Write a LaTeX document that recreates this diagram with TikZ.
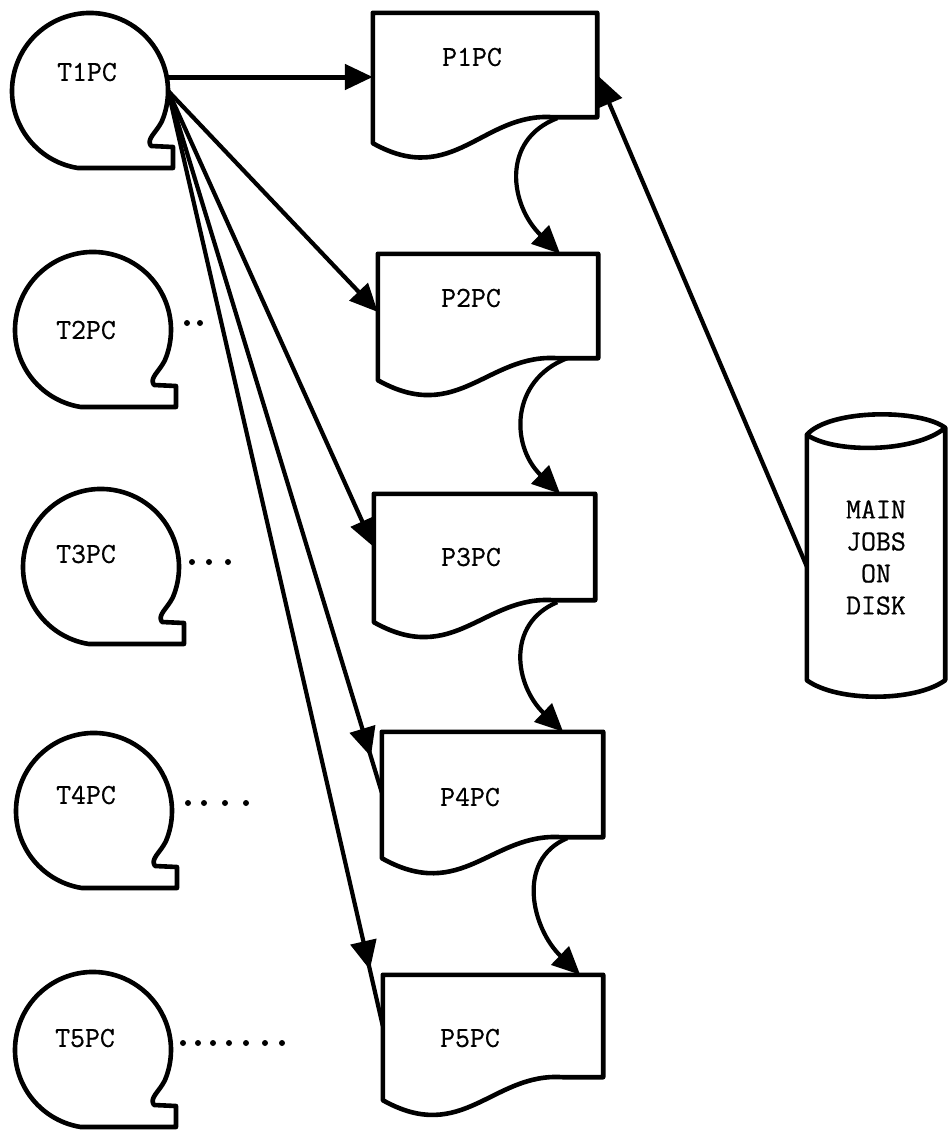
\documentclass[tikz,border=0pt]{standalone}
\usepackage{fontspec}
\newfontfamily\typewriter[FakeBold=0.6]{Latin Modern Mono}
\usetikzlibrary{arrows.meta,calc,decorations.markings}

% outline of a terminal "head": a round bubble with a small chin notch
\newcommand\headoutline[1]{%
  \draw[ink,shift={(#1.center)}] (-12.2,77) arc[start angle=99,end angle=383,radius=78]
    .. controls (66,42) and (56,48) .. (61,55) -- (83,56) -- (83,77) -- cycle;}

% outline of a printed document; #2 = extra drop of the left bottom corner
\newcommand\docoutline[2]{%
  \draw[ink] (#1.north west) -- (#1.north east) -- (#1.south east)
    -- ($(#1.south west)+(180,0)$)
    .. controls ($(#1.south west)+(110,-5)$) and ($(#1.south west)+(80,#2+45)$)
    .. ($(#1.south west)+(0,#2)$) -- cycle;}

\begin{document}
\begin{tikzpicture}[x=1pt,y=-1pt,
  ink/.style={line width=4.6pt,line join=round,line cap=round},
  wire/.style={line width=4.2pt,line join=round},
  tip/.style={-{Triangle[length=28pt,width=25pt]}},
  lbl/.style={font=\fontsize{29}{32}\selectfont\typewriter,inner sep=0pt},
  head/.style={circle,minimum size=156pt,inner sep=0pt,draw=none},
  doc/.style={rectangle,minimum width=221pt,minimum height=104pt,inner sep=0pt,draw=none},
  midtip/.style={postaction={decorate},decoration={markings,
      mark=at position #1 with {\arrow{Triangle[length=29pt,width=26pt]}}}}]

\useasboundingbox (0,0) rectangle (949,1130);

% terminals
\node[head] (T1) at (90,91) {};
\node[head] (T2) at (93,330) {};
\node[head] (T3) at (101,567) {};
\node[head] (T4) at (94,811) {};
\node[head] (T5) at (93,1050) {};
\foreach \t in {T1,T2,T3,T4,T5} {\headoutline{\t}}
\node[lbl] (T1t) at (87,72) {T1PC};
\node[lbl] (T2t) at (86,330) {T2PC};
\node[lbl] (T3t) at (86,554) {T3PC};
\node[lbl] (T4t) at (86,795) {T4PC};
\node[lbl] (T5t) at (85,1038) {T5PC};

% trailing dots after the idle terminals
\foreach \x in {187,200} {\fill (\x,323) circle[radius=3];}
\foreach \x in {192,209,228} {\fill (\x,562) circle[radius=3];}
\foreach \x in {188,204,225,246} {\fill (\x,803) circle[radius=3];}
\foreach \x in {183,198,213,229,246,265,282} {\fill (\x,1043) circle[radius=3];}

% printer queues
\node[doc,minimum width=224pt] (P1) at (485,65) {};
\node[doc,minimum width=220pt] (P2) at (488,306) {};
\node[doc,minimum height=106pt] (P3) at (484.5,547) {};
\node[doc,minimum height=105pt] (P4) at (492.5,784.5) {};
\node[doc,minimum width=220pt,minimum height=102pt] (P5) at (493,1026) {};
\docoutline{P1}{26}
\docoutline{P2}{22}
\docoutline{P3}{22}
\docoutline{P4}{21}
\docoutline{P5}{23}
\node[lbl] (P1t) at (472,57) {P1PC};
\node[lbl] (P2t) at (471,298) {P2PC};
\node[lbl] (P3t) at (471,557) {P3PC};
\node[lbl] (P4t) at (470,797) {P4PC};
\node[lbl] (P5t) at (470,1038) {P5PC};

% disk store
\node[lbl,rectangle,minimum width=138pt,minimum height=245pt,align=center]
  (D) at (876,557.5) {MAIN\\JOBS\\ON\\DISK};
\coordinate (Dtr) at ($(D.north east)+(0,-7)$);
\draw[ink] (D.north west) .. controls +(23,-26) and +(-25,-19) .. (Dtr)
           .. controls +(-30,25) and +(28,19) .. (D.north west)
           -- (D.south west) .. controls +(30,22) and +(-30,22) .. (D.south east)
           -- (Dtr);

% T1 fans out to every printer queue
\draw[wire,line width=5pt,tip] ($(T1.east)+(0,-14)$) -- ($(P1.west)+(0,12)$);
\draw[wire,tip] (T1.east) -- ($(P2.west)+(0,6)$);
\draw[wire,tip] (T1.east) -- (P3.west);
\draw[wire,midtip=0.949] (T1.east) -- ($(P4.west)+(0,8)$);
\draw[wire,midtip=0.94] (T1.east) -- (P5.west);

% overflow from one queue into the next
\draw[wire,tip] ($(P1.south east)+(-40,1)$) .. controls +(-57,22) and +(-50,-48) .. ($(P2.north east)+(-38,0)$);
\draw[wire,tip] ($(P2.south east)+(-31,0)$) .. controls +(-57,22) and +(-50,-48) .. ($(P3.north east)+(-35,0)$);
\draw[wire,tip] ($(P3.south east)+(-38,2)$) .. controls +(-52,22) and +(-48,-46) .. ($(P4.north east)+(-40,0)$);
\draw[wire,tip] ($(P4.south east)+(-36,1)$) .. controls +(-52,22) and +(-48,-46) .. ($(P5.north east)+(-23,0)$);

% jobs fed from disk
\draw[wire,-{Triangle[length=31pt,width=27pt]}] ($(D.west)+(0,9)$) -- ($(P1.east)+(0,10)$);

\end{tikzpicture}
\end{document}
